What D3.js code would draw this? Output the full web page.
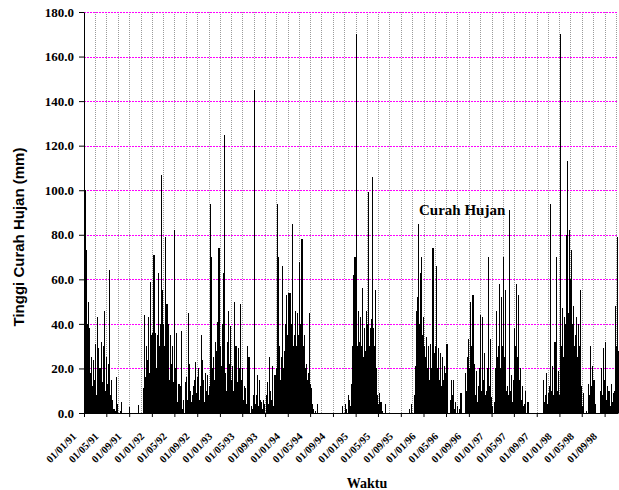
<!DOCTYPE html>
<meta charset="utf-8">

<!-- Load d3.js -->
<script src="https://d3js.org/d3.v7.min.js"></script>

<style>
    body { margin: 0; background: #fff; }
</style>

<body>
    <div id="my_dataviz"></div>

    <script>

        // rainfall (mm), one value per 5-day period starting 1 January of each year
        var years = [1991, 1992, 1993, 1994, 1995, 1996, 1997, 1998];

        var rain1991 = [100, 73, 40, 20, 50, 38, 18, 25, 12, 24, 15, 31, 8, 43, 29, 12, 20, 6, 32, 14,
            30, 46, 10, 25, 13, 22, 64, 8, 15, 6, 0, 2, 0, 1, 16, 4, 0, 0, 1, 5,
            0, 0, 0, 0, 0, 0, 0, 0, 2.5, 0, 0, 0, 0, 0, 0, 0, 0, 3.5, 0, 0,
            0, 0, 0, 11, 44, 16, 30, 24, 43, 18, 59, 35, 36];
        var rain1992 = [30, 71, 25, 36, 20, 35, 63, 30, 40, 107, 55, 40, 30, 79, 30, 49, 20, 40, 15, 35,
            22, 30, 14, 82, 20, 36, 5, 3, 13, 8, 12, 37, 2, 6, 0, 14, 16, 6, 45, 22,
            10, 5, 8, 3, 12, 15, 23, 9, 16, 20, 6, 12, 35, 24, 15, 5, 18, 10, 4, 17,
            8, 12, 94, 70, 20, 25, 15, 32, 28, 41, 24, 74, 30];
        var rain1993 = [21, 12, 40, 63, 125, 18, 10, 32, 46, 22, 39, 15, 21, 10, 50, 18, 30, 8, 14, 29,
            20, 49, 15, 20, 6, 12, 11, 4, 30, 10, 25, 11, 0, 3, 2, 8, 145, 4, 8, 17,
            3, 15, 6, 5, 0, 2, 6, 4, 0, 8, 14, 4, 25, 10, 6, 21, 3, 8, 17, 10,
            20, 94, 70, 30, 15, 25, 66, 20, 28, 40, 53, 30, 35];
        var rain1994 = [54, 30, 54, 40, 85, 30, 35, 46, 30, 45, 35, 68, 30, 40, 78, 25, 30, 35, 20, 22,
            15, 18, 45, 13, 11, 4, 2, 0, 0, 1, 0, 4, 0, 0, 0, 0, 0, 0, 0, 0,
            0, 0, 0, 0, 0, 0, 0, 0, 0, 0, 0, 0, 0, 0, 0, 0, 0, 0, 3, 0,
            0, 4, 2, 0, 8, 6, 3, 13, 30, 62, 45, 70, 40];
        var rain1995 = [170, 30, 46, 32, 43, 30, 56, 25, 38, 28, 46, 35, 40, 99, 30, 38, 42, 106, 38, 30,
            55, 20, 8, 4, 9, 2, 5, 0, 1, 0, 0, 4, 0, 0, 0, 0, 0, 0, 0, 0,
            0, 0, 0, 0, 0, 0, 0, 0, 0, 0, 0, 0, 0, 0, 0, 0, 0, 2, 0, 4,
            0, 0, 8, 21, 46, 52, 85, 40, 35, 63, 70, 35, 43];
        var rain1996 = [30, 25, 34, 20, 30, 15, 31, 20, 30, 74, 20, 27, 30, 66, 20, 29, 15, 27, 12, 25,
            15, 21, 10, 18, 31, 0, 0, 0, 6, 15, 8, 15, 2, 5, 0, 3, 0, 2, 0, 9,
            0, 0, 0, 0, 18, 10, 25, 33, 20, 50, 30, 25, 53, 10, 22, 8, 19, 5, 12, 20,
            44, 10, 43, 15, 27, 8, 4, 10, 20, 70, 12, 33, 7];
        var rain1997 = [3, 0, 5, 20, 46, 25, 30, 58, 20, 52, 15, 30, 70, 25, 55, 10, 12, 8, 91, 10,
            17, 5, 15, 38, 20, 30, 58, 25, 53, 15, 20, 6, 12, 3, 4, 10, 0, 2, 5, 0,
            0, 0, 0, 0, 0, 0, 0, 0, 0, 0, 0, 0, 0, 0, 0, 15, 5, 8, 18, 4,
            9, 12, 94, 10, 21, 8, 15, 32, 20, 70, 10, 19, 8];
        var rain1998 = [170, 30, 47, 25, 43, 40, 80, 113, 45, 45, 82, 60, 73, 40, 48, 30, 35, 43, 25, 40,
            30, 55, 12, 3, 2, 9, 0, 0, 1, 0, 13, 8, 30, 12, 21, 6, 15, 4, 3, 0,
            0, 0, 0, 10, 20, 8, 29, 15, 32, 6, 12, 4, 10, 9, 3, 13, 5, 9, 10, 48,
            30, 79, 28];

        var yTicks = [0, 20, 40, 60, 80, 100, 120, 140, 160, 180];

        // set the dimensions and margins of the graph
        var W = 619, H = 490;
        var margin = { top: 12, right: 1, bottom: 77, left: 84 };
        var serif = "'Liberation Serif', 'Times New Roman', serif";

        var svg = d3.select("#my_dataviz").append("svg")
            .attr("width", W)
            .attr("height", H);

        var x = d3.scaleUtc()
            .domain([new Date(Date.UTC(1991, 0, 1)), new Date(Date.UTC(1998, 10, 12))])
            .range([margin.left, W - margin.right]);

        var y = d3.scaleLinear()
            .domain([0, 180])
            .range([H - margin.bottom, margin.top]);

        // build the dated table from the yearly arrays
        var series = [rain1991, rain1992, rain1993, rain1994, rain1995, rain1996, rain1997, rain1998];
        var data = [];
        series.forEach(function (vals, i) {
            vals.forEach(function (v, p) {
                data.push({ date: new Date(Date.UTC(years[i], 0, 1 + 5 * p)), value: v });
            });
        });

        // vertical grid every 2 months
        var vGrid = x.ticks(d3.utcMonth.every(2)).filter(function (d) { return x(d) > margin.left + 1; });
        svg.append("g")
            .selectAll("line")
            .data(vGrid)
            .enter().append("line")
            .attr("x1", function (d) { return Math.round(x(d)) + 0.5; })
            .attr("x2", function (d) { return Math.round(x(d)) + 0.5; })
            .attr("y1", margin.top)
            .attr("y2", H - margin.bottom)
            .style("stroke", "#9a9a9a")
            .style("stroke-dasharray", "1,1");

        // horizontal grid (magenta)
        svg.append("g")
            .selectAll("line")
            .data(yTicks.filter(function (d) { return d > 0; }))
            .enter().append("line")
            .attr("x1", margin.left)
            .attr("x2", W - margin.right)
            .attr("y1", function (d) { return Math.round(y(d)) + 0.5; })
            .attr("y2", function (d) { return Math.round(y(d)) + 0.5; })
            .style("stroke", "#ff00ff")
            .style("stroke-dasharray", "2,1");

        // bars
        var barW = x(new Date(Date.UTC(1991, 0, 6))) - x(new Date(Date.UTC(1991, 0, 1)));
        svg.append("g")
            .attr("shape-rendering", "crispEdges")
            .selectAll("rect")
            .data(data)
            .enter().append("rect")
            .attr("x", function (d) { return x(d.date) + 0.6; })
            .attr("width", barW + 0.2)
            .attr("y", function (d) { return y(d.value); })
            .attr("height", function (d) { return y(0) - y(d.value); })
            .style("fill", "#000");

        // y axis
        var yAxis = svg.append("g")
            .attr("transform", "translate(" + margin.left + ",0)")
            .call(d3.axisLeft(y).tickValues(yTicks).tickFormat(d3.format(".1f")).tickSize(5).tickSizeOuter(0));
        yAxis.selectAll("text")
            .attr("x", -10)
            .style("font-family", serif)
            .style("font-weight", "bold")
            .style("font-size", "13px")
            .style("fill", "#000");

        // x axis
        var xAxis = svg.append("g")
            .attr("transform", "translate(0," + (H - margin.bottom) + ")")
            .call(d3.axisBottom(x).ticks(d3.utcMonth.every(4)).tickFormat(d3.utcFormat("%d/%m/%y")).tickSize(4).tickSizeOuter(0));
        xAxis.selectAll("text")
            .attr("x", 0)
            .attr("y", 0)
            .attr("dy", 0)
            .attr("text-anchor", "end")
            .attr("transform", "translate(-7.5,24) rotate(-45)")
            .style("font-family", serif)
            .style("font-weight", "bold")
            .style("font-size", "10.5px")
            .style("fill", "#000");
        svg.selectAll(".domain, .tick line").style("stroke", "#000");

        // titles
        svg.append("text")
            .attr("transform", "translate(24,237) rotate(-90)")
            .attr("text-anchor", "middle")
            .style("font-family", "'Liberation Sans', Arial, sans-serif")
            .style("font-weight", "bold")
            .style("font-size", "15px")
            .text("Tinggi Curah Hujan (mm)");

        svg.append("text")
            .attr("x", 367)
            .attr("y", 488)
            .attr("text-anchor", "middle")
            .style("font-family", serif)
            .style("font-weight", "bold")
            .style("font-size", "14px")
            .text("Waktu");

        svg.append("text")
            .attr("x", 419)
            .attr("y", 215)
            .style("font-family", serif)
            .style("font-weight", "bold")
            .style("font-size", "15px")
            .text("Curah Hujan");

    </script>
</body>

</html>
